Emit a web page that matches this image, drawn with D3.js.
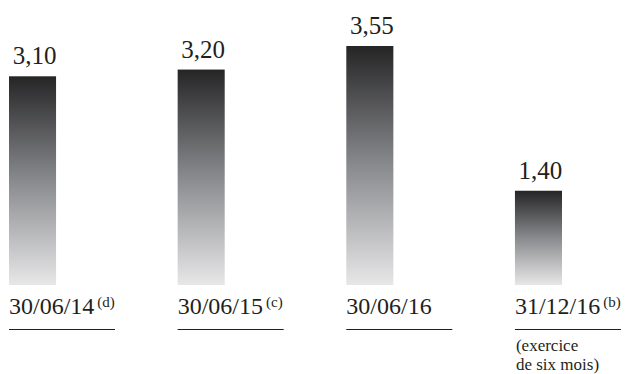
<!DOCTYPE html>
<html>
<head>
<meta charset="utf-8">
<script src="https://cdn.jsdelivr.net/npm/d3@7"></script>
<style>
  html, body { margin: 0; padding: 0; background: #fff; }
  svg { display: block; }
  text { font-family: "Liberation Serif", "Times New Roman", serif; }
</style>
</head>
<body>
<div id="chart"></div>
<script>
// data
const categories = ["30/06/14", "30/06/15", "30/06/16", "31/12/16"];
const notes = ["(d)", "(c)", "", "(b)"];
const values = [3.10, 3.20, 3.55, 1.40];
const subLabels = [[], [], [], ["(exercice", "de six mois)"]];

const w = 625, h = 374;
const textColor = "#231f20";

const svg = d3.select("#chart").append("svg")
    .attr("width", w)
    .attr("height", h);

// vertical gradient, dark at top
const grad = svg.append("defs").append("linearGradient")
    .attr("id", "barGrad")
    .attr("x1", 0).attr("y1", 0).attr("x2", 0).attr("y2", 1);
grad.append("stop").attr("offset", "0%").attr("stop-color", "#252526");
grad.append("stop").attr("offset", "50%").attr("stop-color", "#898a8d");
grad.append("stop").attr("offset", "100%").attr("stop-color", "#e7e7e8");

const x = d3.scaleBand()
    .domain(categories)
    .range([9, 562])
    .paddingInner(0.721)
    .paddingOuter(0);

const y = d3.scaleLinear()
    .domain([0, 3.55])
    .range([285, 46]);

const g = svg.selectAll("g.bar")
    .data(categories)
    .join("g")
    .attr("class", "bar");

g.append("rect")
    .attr("x", d => x(d))
    .attr("y", (d, i) => y(values[i]))
    .attr("width", x.bandwidth())
    .attr("height", (d, i) => y(0) - y(values[i]))
    .attr("fill", "url(#barGrad)");

// value labels
g.append("text")
    .attr("x", d => x(d) + x.bandwidth() / 2 + 2)
    .attr("y", (d, i) => y(values[i]) - 12)
    .attr("text-anchor", "middle")
    .attr("font-size", 25)
    .attr("fill", textColor)
    .text((d, i) => d3.format(".2f")(values[i]).replace(".", ","));

// category labels with footnote marks
const cat = g.append("text")
    .attr("x", d => x(d))
    .attr("y", 314)
    .attr("font-size", 24)
    .attr("fill", textColor);
cat.append("tspan").text(d => d);
cat.append("tspan")
    .attr("dx", 3)
    .attr("dy", -7)
    .attr("font-size", 15)
    .text((d, i) => notes[i]);

// rule under each label
g.append("line")
    .attr("x1", d => x(d))
    .attr("x2", d => x(d) + 106)
    .attr("y1", 329.5)
    .attr("y2", 329.5)
    .attr("stroke", textColor)
    .attr("stroke-width", 1.2);

// extra lines under the last label
g.each(function(d, i) {
    d3.select(this).selectAll("text.sub")
        .data(subLabels[i])
        .join("text")
        .attr("class", "sub")
        .attr("x", x(d) + 1)
        .attr("y", (s, k) => 351 + k * 19)
        .attr("font-size", 17)
        .attr("fill", textColor)
        .text(s => s);
});
</script>
</body>
</html>
